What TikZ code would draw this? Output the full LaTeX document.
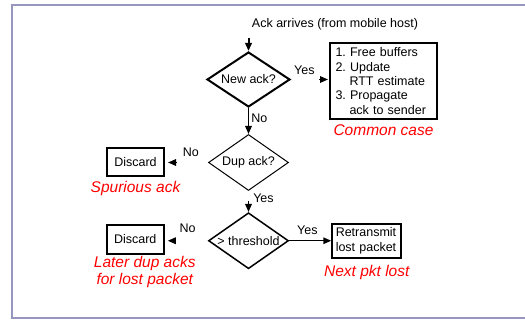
\documentclass[tikz,border=0pt]{standalone}
\usepackage{fontspec}
\setmainfont{Liberation Sans}
\usetikzlibrary{positioning, shapes.geometric, arrows.meta}
\frenchspacing
\definecolor{framegray}{RGB}{150,150,190}
\definecolor{notered}{RGB}{255,0,0}
\tikzset{decision/.style = {draw, diamond, aspect=1.45, line width=1.5pt, inner sep=0pt, minimum width=80pt, minimum height=56pt}}
\tikzset{action/.style = {draw, rectangle, line width=2pt, inner sep=0pt}}
\tikzset{note/.style = {text=notered, font=\fontsize{15.5}{17}\selectfont\itshape, inner sep=0pt, align=center}}
\tikzset{answer/.style = {inner sep=1pt}}

\begin{document}
\begin{tikzpicture}[x=1pt, y=-1pt, >={Triangle[length=8pt, width=6.5pt]}, node distance=26pt, font=\fontsize{12.5}{14.3}\selectfont, line width=1.5pt]
  \useasboundingbox (0,0) rectangle (525,320);
  \draw[framegray, line width=2pt] (525,5.5) -- (11.5,5.5) -- (11.5,318.5) -- (525,318.5);

  \node (title) at (335,24) {Ack arrives (from mobile host)};
  \node [decision, line width=2pt, minimum width=83pt, minimum height=55pt] (newack) at (248.5,79.5) {New ack?};
  \coordinate [above=13pt of newack] (start);
  \node [action, right=38pt of newack, yshift=-1.5pt, minimum width=107pt, minimum height=76pt, text width=96pt, align=left] (steps) {1. Free buffers\\2. Update\\\hspace*{14pt}RTT estimate\\3. Propagate\\\hspace*{14pt}ack to sender};
  \node [note, below=4pt of steps] (commoncase) {Common case};

  \node [decision, line width=1pt, below=of newack] (dupack) {Dup ack?};
  \node [action, left=43pt of dupack, minimum width=57pt, minimum height=28pt] (discard) {Discard};
  \node [note, below=3pt of discard] (spurious) {Spurious ack};

  \node [decision, below=21pt of dupack] (thresh) {> threshold};
  \node [action, left=43pt of thresh, yshift=1.5pt, minimum width=57pt, minimum height=29pt] (discardlate) {Discard};
  \node [note, below=1pt of discardlate, xshift=9.5pt] (laterdup) {Later dup acks\\for lost packet};
  \node [action, right=42pt of thresh, minimum width=69pt, minimum height=34pt, text width=62pt, align=left] (retx) {Retransmit\\lost packet};
  \node [note, below=6pt of retx] (nextlost) {Next pkt lost};

  \path[->, line width=2pt] (start) edge (newack);
  \path[->] (newack) edge [shorten <=28pt, shorten >=1pt] node [answer, above=3.5pt, pos=0.35] {Yes} (newack.east -| steps.west);
  \path[->] (newack) edge node [answer, right=1pt, pos=0.4] {No} (dupack);

  \path[->] (dupack) edge [shorten <=32pt, shorten >=3pt] node [answer, above=4.5pt, pos=0.4] {No} (discard);
  \path[->] (dupack) edge [shorten <=10pt] node [answer, right=3pt, pos=0.36] {Yes} (thresh);

  \path[->] (thresh) edge [shorten <=32pt, shorten >=3pt] node [answer, above=6pt, pos=0.47] {No} (thresh.west -| discardlate.east);
  \path[->] (thresh) edge node [answer, above=4.5pt, pos=0.43] {Yes} (retx);
\end{tikzpicture}
\end{document}
